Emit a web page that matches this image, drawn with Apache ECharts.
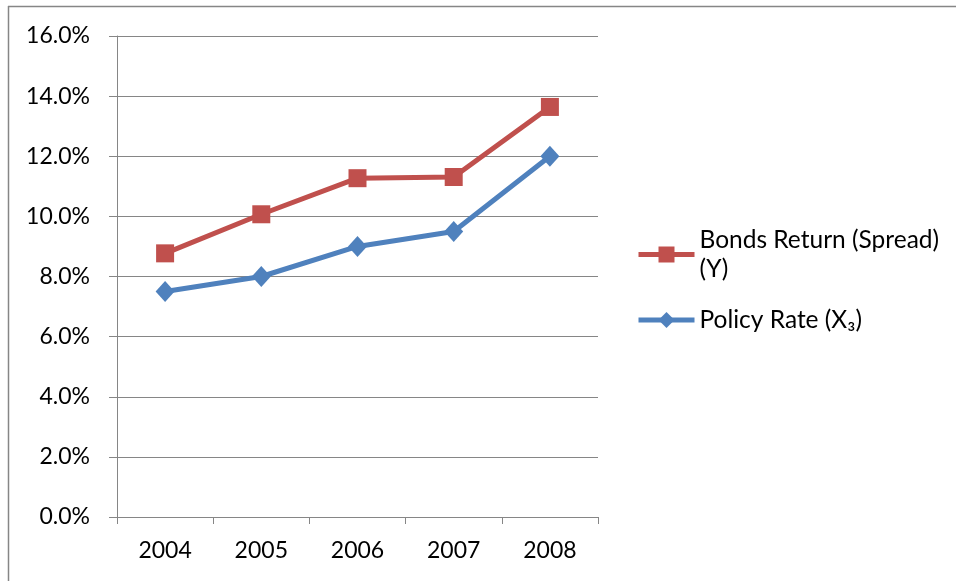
<!DOCTYPE html>
<html>
<head>
<meta charset="utf-8">
<script src="https://cdn.jsdelivr.net/npm/echarts@6/dist/echarts.min.js"></script>
<style>
  html, body { margin: 0; padding: 0; background: #ffffff; }
  #chart { width: 956px; height: 581px; }
</style>
</head>
<body>
<div id="chart"></div>
<script>
// Years on the category axis
const years = ['2004', '2005', '2006', '2007', '2008'];
// Bonds return (spread), in percent
const bondsReturn = [8.77, 10.07, 11.27, 11.31, 13.64];
// Policy rate, in percent
const policyRate = [7.5, 8.0, 9.0, 9.5, 12.0];
// Value axis range, in percent
const yMin = 0;
const yMax = 16;
const yStep = 2;

const FONT = 'Lato';
const GRID_GREY = '#868686';
const RED = '#C0504D';
const BLUE = '#4F81BD';

const chart = echarts.init(document.getElementById('chart'), null, { renderer: 'canvas' });

chart.setOption({
  backgroundColor: '#ffffff',
  animation: false,
  textStyle: { fontFamily: FONT, color: '#000000' },
  grid: { left: 117, right: 358, top: 36, bottom: 64, containLabel: false },
  xAxis: {
    type: 'category',
    data: years,
    boundaryGap: true,
    axisLine: { show: true, lineStyle: { color: GRID_GREY, width: 1 } },
    axisTick: { show: true, alignWithLabel: false, length: 7, lineStyle: { color: GRID_GREY, width: 1 } },
    axisLabel: { fontFamily: FONT, fontSize: 23, color: '#000000', margin: 22 },
    splitLine: { show: false }
  },
  yAxis: {
    type: 'value',
    min: yMin,
    max: yMax,
    interval: yStep,
    axisLine: { show: true, lineStyle: { color: GRID_GREY, width: 1 } },
    axisTick: { show: true, length: 8, lineStyle: { color: GRID_GREY, width: 1 } },
    axisLabel: {
      fontFamily: FONT, fontSize: 23, color: '#000000', margin: 27,
      formatter: v => v.toFixed(1) + '%'
    },
    splitLine: { show: true, lineStyle: { color: GRID_GREY, width: 1 } }
  },
  legend: {
    orient: 'vertical',
    left: 636,
    top: 211,
    padding: 0,
    itemWidth: 56,
    itemHeight: 20,
    itemGap: -7,
    lineStyle: { width: 5 },
    textStyle: { fontFamily: FONT, fontSize: 24.5, color: '#000000', lineHeight: 29, padding: [29, 0, 0, 0] },
    data: ['Bonds Return (Spread)\n(Y)', 'Policy Rate (X₃)']
  },
  series: [
    {
      name: 'Bonds Return (Spread)\n(Y)',
      type: 'line',
      data: bondsReturn,
      symbol: 'rect',
      symbolSize: 18,
      lineStyle: { color: RED, width: 5 },
      itemStyle: { color: RED },
      z: 3
    },
    {
      name: 'Policy Rate (X₃)',
      type: 'line',
      data: policyRate,
      symbol: 'diamond',
      symbolSize: [19, 21],
      lineStyle: { color: BLUE, width: 5 },
      itemStyle: { color: BLUE },
      z: 4
    }
  ],
  graphic: [
    // chart frame: top and left edges
    { type: 'line', shape: { x1: 8, y1: 6.5, x2: 956, y2: 6.5 }, style: { stroke: GRID_GREY, lineWidth: 1.5 } },
    { type: 'line', shape: { x1: 8.5, y1: 6, x2: 8.5, y2: 581 }, style: { stroke: GRID_GREY, lineWidth: 1.5 } }
  ]
});
</script>
</body>
</html>
